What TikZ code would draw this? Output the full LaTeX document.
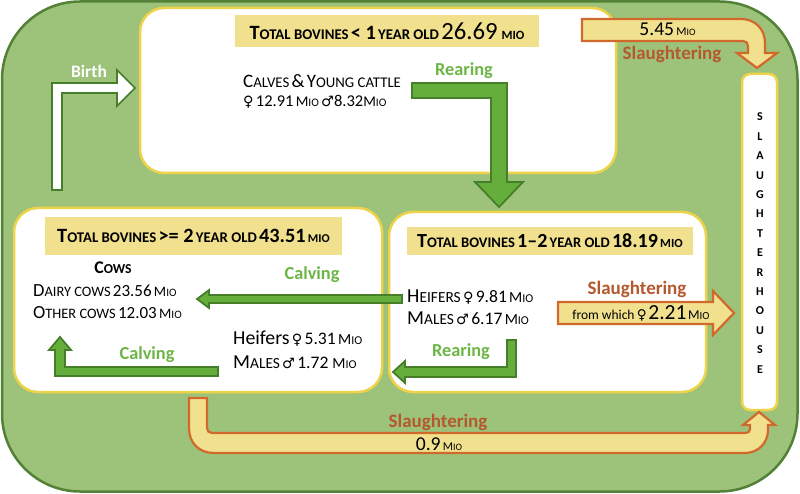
\documentclass[tikz,border=0pt]{standalone}
\usepackage{fontspec}
\setmainfont{Carlito}
\newfontfamily\symf{DejaVu Sans}
\newcommand\fz[2]{{\fontsize{#1pt}{#1pt}\selectfont #2}}
\definecolor{bggreen}{HTML}{9DC37B}
\definecolor{framegreen}{HTML}{538135}
\definecolor{boxy}{HTML}{EDD24A}
\definecolor{hdrfill}{HTML}{F1E08E}
\definecolor{agreen}{HTML}{66AE3C}
\definecolor{agreendk}{HTML}{457F2A}
\definecolor{gtext}{HTML}{6DB545}
\definecolor{aorange}{HTML}{D0692B}
\definecolor{otext}{HTML}{B5582D}
\tikzset{
  wbox/.style={draw=boxy, line width=2.5pt, fill=white, rounded corners=24pt, inner sep=0pt},
  hdr/.style={fill=hdrfill, inner sep=0pt, font=\bfseries},
  garrow/.style={fill=agreen, draw=agreendk, line width=1.8pt},
  oarrow/.style={fill=hdrfill, draw=aorange, line width=2.2pt},
  warrow/.style={fill=white, draw=agreendk, line width=1.6pt},
  txt/.style={inner sep=0pt, anchor=west, text=black},
  gl/.style={font=\bfseries, text=gtext, inner sep=0pt},
  ol/.style={font=\bfseries, text=otext, inner sep=0pt},
  shl/.style={font=\bfseries, inner sep=0pt},
}
\begin{document}
\begin{tikzpicture}[x=1pt,y=-1pt]
\useasboundingbox (0,0) rectangle (800,494);
% outer frame
\draw[fill=bggreen, draw=framegreen, line width=2.5pt, rounded corners=78pt] (2,1.5) rectangle (797.5,491.5);
% white boxes
\node[wbox, minimum width=476pt, minimum height=165pt] (topbox) at (378,90.5) {};
\node[wbox, minimum width=368pt, minimum height=184pt] (leftbox) at (198,300) {};
\node[wbox, minimum width=317pt, minimum height=180pt] (rightbox) at (547.5,302) {};
\node[wbox, rounded corners=8pt, minimum width=35pt, minimum height=336pt] (shouse) at (759.5,242) {};
% headers
\node[hdr, minimum width=304pt, minimum height=32pt] (h1) at (387,31)
  {\fz{20.3}{T}\fz{14.8}{OTAL BOVINES} \fz{20.3}{< 1} \fz{14.8}{YEAR OLD} \fz{24.7}{\mdseries 26.69}\, \fz{12.6}{MIO}};
\node[hdr, minimum width=297pt, minimum height=38pt] (h2) at (193.5,236)
  {\fz{20.3}{T}\fz{14.8}{OTAL BOVINES} \fz{20.3}{>= 2} \fz{14.8}{YEAR OLD} \fz{20.3}{43.51} \fz{12}{MIO}};
\node[hdr, minimum width=286pt, minimum height=28pt] (h3) at (550,241)
  {\fz{20}{T}\fz{14.6}{OTAL BOVINES} \fz{20}{1–2} \fz{14.6}{YEAR OLD} \fz{20}{18.19} \fz{12.4}{MIO}};
% ---- arrows
% birth
\draw[warrow] (52,190) -- (52,83) -- (117,83) -- (117,70) -- (135,88) -- (117,106) -- (117,93) -- (62,93) -- (62,190) -- cycle;
% rearing top
\draw[garrow] (412,83) -- (507,83) -- (507,182) -- (523,182) -- (499,207) -- (475,182) -- (491,182) -- (491,98) -- (412,98) -- cycle;
% calving long
\draw[garrow] (402,295) -- (209,295) -- (209,290) -- (197,299) -- (209,308) -- (209,303) -- (402,303) -- cycle;
% calving elbow
\draw[garrow] (218,367) -- (65,367) -- (65,350) -- (71,350) -- (60,337) -- (49,350) -- (55,350) -- (55,376) -- (218,376) -- cycle;
% rearing elbow
\draw[garrow] (507,340) -- (516,340) -- (516,377) -- (405,377) -- (405,383) -- (393,372) -- (405,361) -- (405,367) -- (507,367) -- cycle;
% slaughtering right
\draw[oarrow] (558,302) -- (713,302) -- (713,291) -- (734,313) -- (713,335) -- (713,324) -- (558,324) -- cycle;
% slaughtering top
\draw[oarrow] (582,19) -- (741,19) .. controls (755,19) and (765,29) .. (765,43) -- (765,53) -- (777,53) -- (757,68) -- (737,53) -- (748,53) -- (748,46) .. controls (748,43) and (746,41) .. (743,41) -- (582,41) -- cycle;
% slaughtering bottom
\draw[oarrow] (189,398) -- (189,428) .. controls (189,443) and (199,453) .. (214,453) -- (745,453) .. controls (758,453) and (768,443) .. (768,430) -- (768,425) -- (775,425) -- (759,412) -- (743,425) -- (750,425) -- (750,429) .. controls (750,432) and (748,433) .. (745,433) -- (212,433) .. controls (209,433) and (207,431) .. (207,428) -- (207,398) -- cycle;
% ---- texts
\node[txt] (calves) at (243,81) {\fz{19}{C}\fz{14.8}{ALVES} \fz{19}{\&} \fz{19}{Y}\fz{14.8}{OUNG CATTLE}};
\node[txt] (calvesn) at (243,102) {{\symf\fz{14.3}{♀}} \fz{16.5}{12.91} \fz{14.8}{M}\fz{11.5}{IO} {\symf\fz{14.3}{♂}}\fz{16.5}{8.32}\fz{14.8}{M}\fz{11.5}{IO}};
\node[inner sep=0pt, font=\bfseries] (cows) at (113,268) {\fz{17.8}{C}\fz{13.7}{OWS}};
\node[txt] (dairy) at (33,290.5) {\fz{18.5}{D}\fz{14.4}{AIRY COWS} \fz{17}{23.56} \fz{14.4}{M}\fz{11.3}{IO}};
\node[txt] (other) at (33,312.5) {\fz{18.5}{O}\fz{14.4}{THER COWS} \fz{17}{12.03} \fz{14.4}{M}\fz{11.3}{IO}};
\node[txt] (heifl) at (233,339) {\fz{19.8}{Heifers} {\symf\fz{14.3}{♀}} \fz{17.6}{5.31} \fz{15.4}{M}\fz{12}{IO}};
\node[txt] (malesl) at (233,362.5) {\fz{19.8}{M}\fz{15.4}{ALES} {\symf\fz{14.3}{♂}} \fz{17.6}{1.72}\, \fz{15.4}{M}\fz{12}{IO}};
\node[txt] (heifr) at (407,297.5) {\fz{19.8}{H}\fz{15.4}{EIFERS} {\symf\fz{14.3}{♀}} \fz{17.6}{9.81} \fz{15.4}{M}\fz{12}{IO}};
\node[txt] (malesr) at (407,318) {\fz{19.8}{M}\fz{15.4}{ALES} {\symf\fz{14.3}{♂}} \fz{17.6}{6.17} \fz{15.4}{M}\fz{12}{IO}};
\node[gl] (rear1) at (464,71) {\fz{18.3}{Rearing}};
\node[gl] (rear2) at (461,352) {\fz{18.3}{Rearing}};
\node[gl] (calv1) at (312,275) {\fz{18.3}{Calving}};
\node[gl] (calv2) at (147,355) {\fz{18.3}{Calving}};
\node[inner sep=0pt, font=\bfseries, text=white] (birth) at (89,71) {\fz{17.5}{Birth}};
\node[ol] (sl1) at (672,54) {\fz{19}{Slaughtering}};
\node[ol] (sl2) at (637,289) {\fz{19}{Slaughtering}};
\node[ol] (sl3) at (438,422.5) {\fz{19}{Slaughtering}};
\node[inner sep=0pt] (n545) at (667.5,29) {\fz{19.6}{5.45} \fz{12}{M}\fz{9.8}{IO}};
\node[inner sep=0pt] (n09) at (439,444) {\fz{19.6}{0.9} \fz{12}{M}\fz{9.8}{IO}};
\node[inner sep=0pt] (fromw) at (641,313) {\fz{13.5}{from which} {\symf\fz{13.5}{♀}}\,\fz{21.5}{2.21}\,\fz{13.5}{M}\fz{10.8}{IO}};
\foreach \c [count=\i from 0] in {S,L,A,U,G,H,T,E,R,H,O,U,S,E}
  \node[shl] (sh\i) at (760,{117+\i*19.4}) {\fz{12}{\c}};
\end{tikzpicture}
\end{document}
